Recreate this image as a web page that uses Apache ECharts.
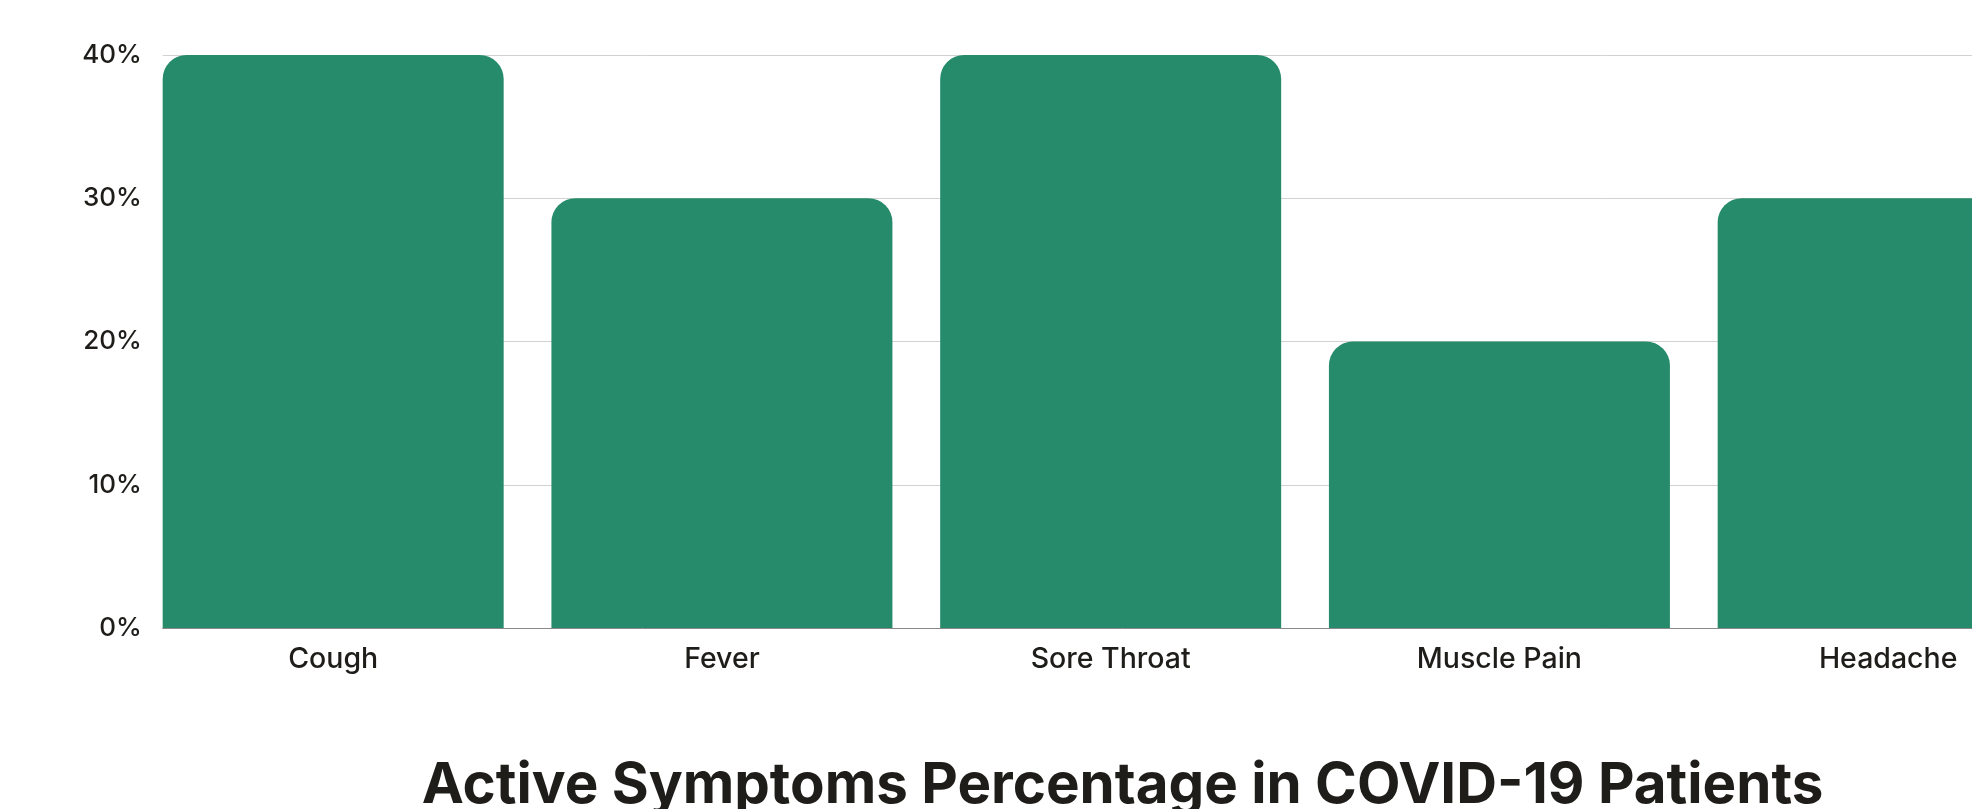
<!DOCTYPE html>
<html>
<head>
<meta charset="utf-8">
<script src="https://cdn.jsdelivr.net/npm/echarts@6/dist/echarts.min.js"></script>
<style>
  html, body { margin: 0; padding: 0; background: #ffffff; overflow: hidden; }
  #chart { width: 2245px; height: 809px; }
</style>
</head>
<body>
<div id="chart"></div>
<script>
// Share of patients reporting each active symptom (%)
const categories = ['Cough', 'Fever', 'Sore Throat', 'Muscle Pain', 'Headache'];
const percentages = [40, 30, 40, 20, 30];
const yTicks = [0, 10, 20, 30, 40];

const FONT = 'Inter';
const TEXT = '#1f1d1a';
const GREEN = '#268B6A';

const chart = echarts.init(document.getElementById('chart'), null, { renderer: 'canvas' });

const yMin = yTicks[0];
const yMax = yTicks[yTicks.length - 1];
const yStep = yTicks[1] - yTicks[0];

chart.setOption({
  animation: false,
  backgroundColor: '#ffffff',
  title: {
    text: 'Active Symptoms Percentage in COVID-19 Patients',
    left: 'center',
    top: 753,
    textStyle: { fontFamily: FONT, fontSize: 56.5, fontWeight: 'bold', color: TEXT }
  },
  grid: [
    // bars and tick labels
    { left: 138.8, top: 55, width: 1943.75, height: 573 },
    // grid lines and baseline, starting at the first bar's edge
    { left: 162.7, top: 55, width: 1920, height: 573 }
  ],
  xAxis: [
    {
      type: 'category', gridIndex: 0, data: categories,
      axisLine: { show: false }, axisTick: { show: false },
      axisLabel: { fontFamily: FONT, fontSize: 28.5, fontWeight: 500, color: TEXT, margin: 17 }
    },
    {
      type: 'category', gridIndex: 1, data: categories,
      axisLine: { show: true, lineStyle: { color: '#8a8a8a', width: 1 } },
      axisTick: { show: false }, axisLabel: { show: false }
    }
  ],
  yAxis: [
    {
      type: 'value', gridIndex: 0, min: yMin, max: yMax, interval: yStep,
      splitLine: { show: false }, axisLine: { show: false }, axisTick: { show: false },
      axisLabel: { fontFamily: FONT, fontSize: 26, fontWeight: 500, color: TEXT, margin: -3, formatter: '{value}%' }
    },
    {
      type: 'value', gridIndex: 1, min: yMin, max: yMax, interval: yStep,
      splitLine: { show: true, lineStyle: { color: '#d2d2d2', width: 1 } },
      axisLine: { show: false }, axisTick: { show: false }, axisLabel: { show: false }
    }
  ],
  series: [
    {
      type: 'bar',
      xAxisIndex: 0, yAxisIndex: 0,
      data: percentages,
      barWidth: 341,
      itemStyle: { color: GREEN, borderRadius: [24, 24, 0, 0] },
      z: 3
    }
  ]
});
</script>
</body>
</html>
